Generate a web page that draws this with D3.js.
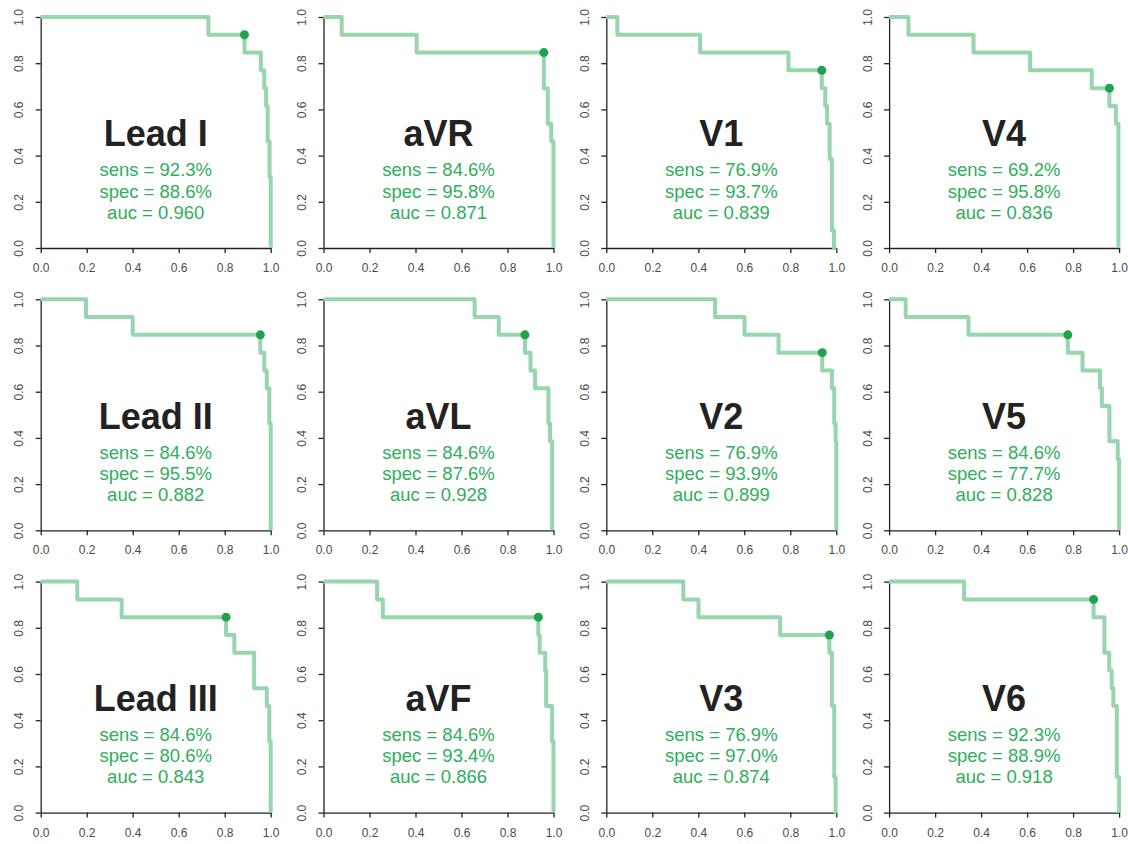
<!DOCTYPE html>
<html>
<head>
<meta charset="utf-8">
<script src="https://cdn.jsdelivr.net/npm/d3@7"></script>
<style>
  body { margin: 0; background: #fff; }
  svg text { font-family: "Liberation Sans", Arial, Helvetica, sans-serif; }
</style>
</head>
<body>
<div id="chart"></div>
<script>
// panel names, cut-off stats, in reading order (3 rows x 4 cols)
var leads = ["Lead I", "aVR", "V1", "V4", "Lead II", "aVL", "V2", "V5", "Lead III", "aVF", "V3", "V6"];
var sens = [92.3, 84.6, 76.9, 69.2, 84.6, 84.6, 76.9, 84.6, 84.6, 84.6, 76.9, 92.3];
var spec = [88.6, 95.8, 93.7, 95.8, 95.5, 87.6, 93.9, 77.7, 80.6, 93.4, 97.0, 88.9];
var auc = [0.960, 0.871, 0.839, 0.836, 0.882, 0.928, 0.899, 0.828, 0.843, 0.866, 0.874, 0.918];
var tickVals = [0, 0.2, 0.4, 0.6, 0.8, 1.0];

// roc step corners [specificity, sensitivity]
var rocI   = [[0,1],[0.729,0.923],[0.886,0.846],[0.957,0.769],[0.972,0.692],[0.98,0.615],[0.987,0.462],[0.995,0.308],[1,0]];
var rocAVR = [[0,1],[0.079,0.923],[0.405,0.846],[0.958,0.692],[0.975,0.538],[0.99,0.462],[1,0]];
var rocV1  = [[0,1],[0.048,0.923],[0.408,0.846],[0.792,0.769],[0.937,0.692],[0.952,0.615],[0.96,0.538],[0.971,0.385],[0.981,0.077],[0.99,0],[1,0]];
var rocV4  = [[0,1],[0.084,0.923],[0.367,0.846],[0.613,0.769],[0.881,0.692],[0.958,0.615],[0.986,0.538],[0.997,0]];
var rocII  = [[0,1],[0.197,0.923],[0.4,0.846],[0.955,0.769],[0.972,0.692],[0.983,0.615],[0.994,0.462],[1,0]];
var rocAVL = [[0,1],[0.657,0.923],[0.762,0.846],[0.876,0.769],[0.9,0.692],[0.92,0.615],[0.978,0.462],[0.985,0.385],[0.994,0]];
var rocV2  = [[0,1],[0.473,0.923],[0.601,0.846],[0.749,0.769],[0.939,0.692],[0.981,0.615],[0.991,0.462],[0.997,0.385],[1,0]];
var rocV5  = [[0,1],[0.072,0.923],[0.345,0.846],[0.777,0.769],[0.841,0.692],[0.917,0.615],[0.925,0.538],[0.958,0.385],[0.994,0.308],[1,0]];
var rocIII = [[0,1],[0.159,0.923],[0.352,0.846],[0.806,0.769],[0.842,0.692],[0.928,0.538],[0.983,0.462],[0.994,0.308],[1,0]];
var rocAVF = [[0,1],[0.233,0.923],[0.258,0.846],[0.934,0.769],[0.94,0.692],[0.964,0.615],[0.968,0.462],[0.994,0.308],[1,0]];
var rocV3  = [[0,1],[0.335,0.923],[0.401,0.846],[0.756,0.769],[0.97,0.692],[0.981,0.462],[0.991,0.154],[0.997,0],[1,0]];
var rocV6  = [[0,1],[0.326,0.923],[0.889,0.846],[0.936,0.692],[0.957,0.615],[0.968,0.538],[0.975,0.462],[0.99,0.154],[1,0]];
var curves = [rocI, rocAVR, rocV1, rocV4, rocII, rocAVL, rocV2, rocV5, rocIII, rocAVF, rocV3, rocV6];

var width = 1128, height = 844;
var pw = 230, ph = 231;
var left0 = 40.7, top0 = 17, colStep = 282.8, rowStep = 282.3;

var svg = d3.select("#chart").append("svg")
	.attr("width", width).attr("height", height);

var x = d3.scaleLinear().domain([0, 1]).range([0, pw]);
var y = d3.scaleLinear().domain([0, 1]).range([ph, 0]);
var fmt = d3.format(".1f");

var line = d3.line()
	.x(function(d) { return x(d[0]); })
	.y(function(d) { return y(d[1]); })
	.curve(d3.curveStepAfter);

leads.forEach(function(name, i) {
	var col = i % 4, row = Math.floor(i / 4);
	var g = svg.append("g")
		.attr("transform", "translate(" + (left0 + col * colStep) + "," + (top0 + row * rowStep) + ")");

	// axes
	var ax = g.append("g")
		.attr("transform", "translate(0," + ph + ")")
		.call(d3.axisBottom(x).tickValues(tickVals).tickFormat(fmt).tickSize(5).tickSizeOuter(0).tickPadding(10.5));
	var ay = g.append("g")
		.call(d3.axisLeft(y).tickValues(tickVals).tickFormat(fmt).tickSize(5).tickSizeOuter(0));
	ay.selectAll(".tick text")
		.attr("x", null).attr("dy", "0.35em")
		.attr("text-anchor", "middle")
		.attr("transform", "translate(-21.5,0) rotate(-90)");
	[ax, ay].forEach(function(a) {
		a.select(".domain").attr("stroke", "#222").attr("stroke-width", 1.3);
		a.selectAll(".tick line").attr("stroke", "#222").attr("stroke-width", 1.3);
		a.selectAll(".tick text").attr("fill", "#4a4a4a").style("font-size", "12px");
	});

	// curve
	g.append("path")
		.datum(curves[i])
		.attr("d", line)
		.attr("fill", "none")
		.attr("stroke", "#97d5ad")
		.attr("stroke-width", 4)
		.attr("stroke-linejoin", "round");

	g.append("circle")
		.attr("cx", x(spec[i] / 100))
		.attr("cy", y(sens[i] / 100))
		.attr("r", 4.5)
		.attr("fill", "#22a24f");

	// labels
	g.append("text")
		.attr("x", x(0.5)).attr("y", y(0.44))
		.attr("text-anchor", "middle")
		.attr("fill", "#222")
		.style("font-size", "36px").style("font-weight", "bold")
		.text(name);

	var stats = ["sens = " + sens[i].toFixed(1) + "%", "spec = " + spec[i].toFixed(1) + "%", "auc = " + auc[i].toFixed(3)];
	stats.forEach(function(s, k) {
		g.append("text")
			.attr("x", x(0.5)).attr("y", y(0.31) + k * 21.2)
			.attr("text-anchor", "middle")
			.attr("fill", "#2fae5c")
			.style("font-size", "18.5px")
			.text(s);
	});
});
</script>
</body>
</html>
